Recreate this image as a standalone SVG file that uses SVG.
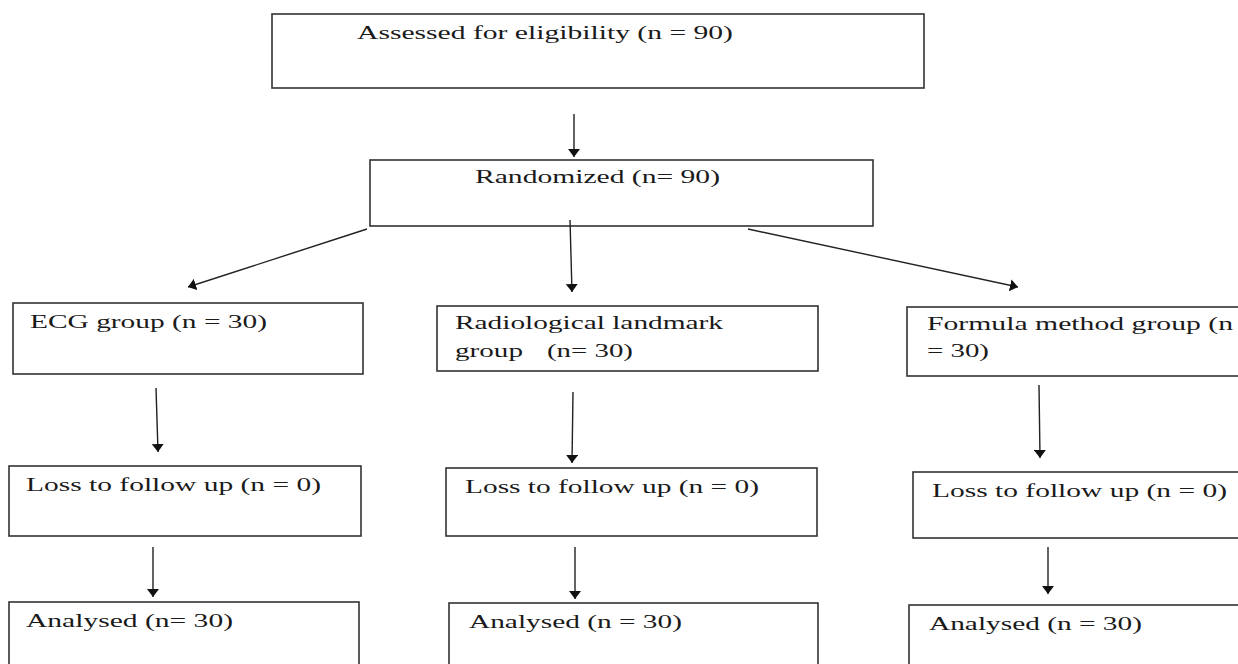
<svg xmlns="http://www.w3.org/2000/svg" width="1238" height="664" viewBox="0 0 1238 664">
<style>
.box{fill:#fff;stroke:#333;stroke-width:1.6}
.t{font-family:"Liberation Serif","Times New Roman",serif;font-size:19.5px;fill:#1a1a1a}
.c{stroke:#222;stroke-width:1.4;fill:none;marker-end:url(#ah)}
</style>
<defs>
<marker id="ah" viewBox="0 0 8 12" refX="8" refY="6" markerWidth="8" markerHeight="12" markerUnits="userSpaceOnUse" orient="auto">
<path d="M0,0 L8,6 L0,12 z" fill="#111"/>
</marker>
</defs>
<rect width="1238" height="664" fill="#fff"/>
<g id="assessed"><rect class="box" x="272" y="14" width="652" height="74"/><text class="t" x="357" y="39" textLength="376" lengthAdjust="spacingAndGlyphs">Assessed for eligibility (n = 90)</text></g>
<g id="randomized"><rect class="box" x="370" y="160" width="503" height="66"/><text class="t" x="475" y="183" textLength="245" lengthAdjust="spacingAndGlyphs">Randomized (n= 90)</text></g>
<g id="ecg"><rect class="box" x="13" y="303" width="350" height="71"/><text class="t" x="30" y="328" textLength="237" lengthAdjust="spacingAndGlyphs">ECG group (n = 30)</text></g>
<g id="radio"><rect class="box" x="437" y="306" width="381" height="65"/><text class="t" x="455" y="329" textLength="268" lengthAdjust="spacingAndGlyphs">Radiological landmark</text><text class="t" y="357"><tspan x="455" textLength="68" lengthAdjust="spacingAndGlyphs">group</tspan><tspan x="547" textLength="86" lengthAdjust="spacingAndGlyphs">(n= 30)</tspan></text></g>
<g id="formula"><rect class="box" x="907" y="307" width="340" height="69"/><text class="t" x="927" y="330" textLength="306" lengthAdjust="spacingAndGlyphs">Formula method group (n</text><text class="t" x="927" y="357" textLength="62" lengthAdjust="spacingAndGlyphs">= 30)</text></g>
<g id="loss1"><rect class="box" x="9" y="466" width="352" height="70"/><text class="t" x="26" y="491" textLength="295" lengthAdjust="spacingAndGlyphs">Loss to follow up (n = 0)</text></g>
<g id="loss2"><rect class="box" x="446" y="468" width="371" height="68"/><text class="t" x="465" y="493" textLength="294" lengthAdjust="spacingAndGlyphs">Loss to follow up (n = 0)</text></g>
<g id="loss3"><rect class="box" x="913" y="472" width="335" height="66"/><text class="t" x="932" y="497" textLength="295" lengthAdjust="spacingAndGlyphs">Loss to follow up (n = 0)</text></g>
<g id="analysed1"><rect class="box" x="9" y="602" width="350" height="72"/><text class="t" x="26" y="627" textLength="207" lengthAdjust="spacingAndGlyphs">Analysed (n= 30)</text></g>
<g id="analysed2"><rect class="box" x="449" y="603" width="369" height="72"/><text class="t" x="469" y="628" textLength="213" lengthAdjust="spacingAndGlyphs">Analysed (n = 30)</text></g>
<g id="analysed3"><rect class="box" x="909" y="605" width="340" height="72"/><text class="t" x="929" y="630" textLength="213" lengthAdjust="spacingAndGlyphs">Analysed (n = 30)</text></g>
<g id="connectors">
<line class="c" x1="574" y1="114" x2="574" y2="157"/>
<line class="c" x1="367" y1="229" x2="188" y2="287"/>
<line class="c" x1="570" y1="220" x2="572" y2="292"/>
<line class="c" x1="748" y1="229" x2="1018" y2="287"/>
<line class="c" x1="156" y1="388" x2="158" y2="452"/>
<line class="c" x1="573" y1="392" x2="572" y2="463"/>
<line class="c" x1="1039" y1="385" x2="1040" y2="458"/>
<line class="c" x1="153" y1="547" x2="153" y2="597"/>
<line class="c" x1="575" y1="547" x2="575" y2="599"/>
<line class="c" x1="1048" y1="547" x2="1048" y2="594"/>
</g>
</svg>
